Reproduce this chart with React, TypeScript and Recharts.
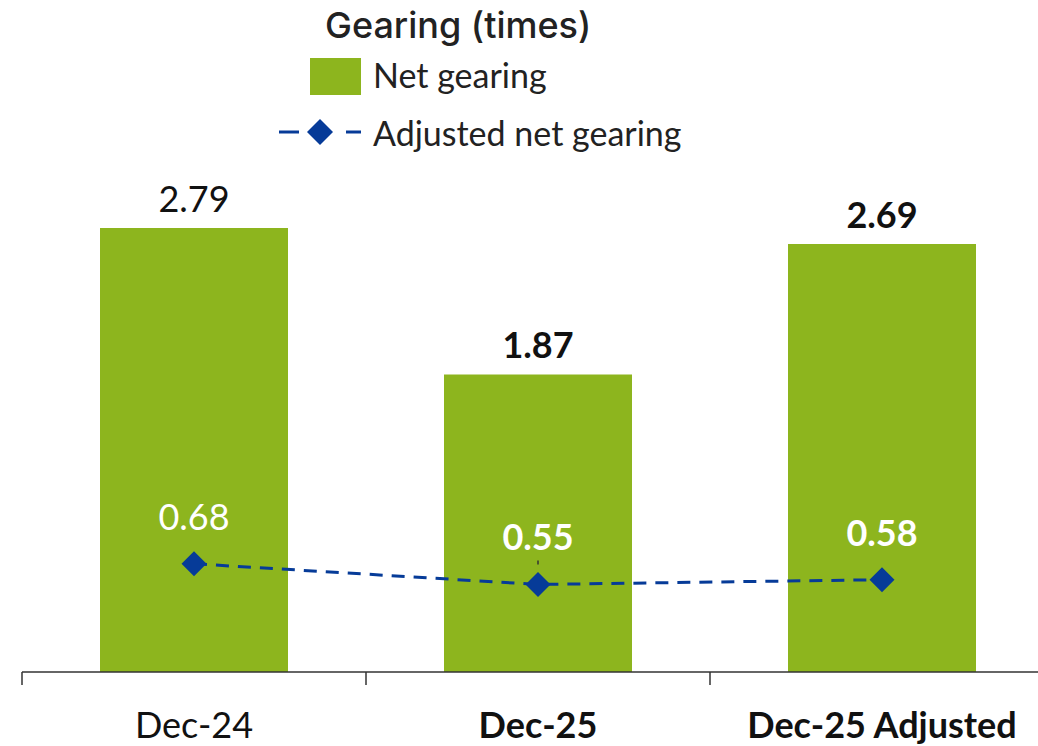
import { ComposedChart, Bar, Line, XAxis, YAxis, LabelList } from "recharts";

const categories = ["Dec-24", "Dec-25", "Dec-25 Adjusted"];
const netGearing = [2.79, 1.87, 2.69];
const adjustedNetGearing = [0.68, 0.55, 0.58];
const boldFlags = [false, true, true];

const GREEN = "#8db51e";
const BLUE = "#063b98";
const FONT = "Lato, 'Liberation Sans', sans-serif";

const data = categories.map((name, i) => ({
  name,
  net: netGearing[i],
  adjusted: adjustedNetGearing[i],
}));

const HALF_BAND = 172;

const CategoryTick = (props: any) => {
  const { x, y, payload, index } = props;
  return (
    <g>
      <line x1={x - HALF_BAND} x2={x - HALF_BAND} y1={y} y2={y + 13} stroke="#333" strokeWidth={1.5} />
      <text
        x={x}
        y={y + 66}
        textAnchor="middle"
        fontFamily={FONT}
        fontSize={36}
        fontWeight={boldFlags[index] ? 700 : 400}
        fill="#111"
      >
        {payload.value}
      </text>
    </g>
  );
};

const BarLabel = (props: any) => {
  const { x, y, width, value, index } = props;
  return (
    <text
      x={x + width / 2}
      y={y - 16}
      textAnchor="middle"
      fontFamily={FONT}
      fontSize={36}
      fontWeight={boldFlags[index] ? 700 : 400}
      fill="#111"
    >
      {value.toFixed(2)}
    </text>
  );
};

const LineLabel = (props: any) => {
  const { x, y, value, index } = props;
  return (
    <g>
      {index === 1 && <line x1={x} x2={x} y1={y - 24} y2={y - 20} stroke="#333" strokeWidth={1.5} />}
      <text
        x={x}
        y={y - 34}
        textAnchor="middle"
        fontFamily={FONT}
        fontSize={36}
        fontWeight={boldFlags[index] ? 700 : 400}
        fill="#fff"
      >
        {value.toFixed(2)}
      </text>
    </g>
  );
};

const Diamond = (props: any) => {
  const { cx, cy } = props;
  if (cx == null || cy == null) return null;
  const r = 12.5;
  return (
    <polygon
      points={`${cx},${cy - r} ${cx + r},${cy} ${cx},${cy + r} ${cx - r},${cy}`}
      fill={BLUE}
    />
  );
};

const LegendBox = () => (
  <div style={{ position: "absolute", left: 0, top: 0, width: 1038, height: 160, fontFamily: FONT, color: "#222" }}>
    <div
      style={{
        position: "absolute",
        left: 325,
        top: 3,
        fontFamily: "Inter, sans-serif",
        fontWeight: 500,
        fontSize: 36,
        whiteSpace: "nowrap",
      }}
    >
      Gearing (times)
    </div>
    <div style={{ position: "absolute", left: 310, top: 58, width: 51, height: 37, background: GREEN }} />
    <div style={{ position: "absolute", left: 373, top: 54, fontSize: 34, whiteSpace: "nowrap" }}>Net gearing</div>
    <svg style={{ position: "absolute", left: 275, top: 112 }} width={95} height={40}>
      <line x1={4} x2={24} y1={20} y2={20} stroke={BLUE} strokeWidth={3} />
      <polygon points="45,7 58,20 45,33 32,20" fill={BLUE} />
      <line x1={71} x2={86} y1={20} y2={20} stroke={BLUE} strokeWidth={3} />
    </svg>
    <div style={{ position: "absolute", left: 373, top: 112, fontSize: 34, whiteSpace: "nowrap" }}>
      Adjusted net gearing
    </div>
  </div>
);

export default function App() {
  return (
    <div style={{ position: "absolute", left: 0, top: 0, width: 1038, height: 746, overflow: "hidden", background: "#fff" }}>
      <ComposedChart
        width={1060}
        height={746}
        data={data}
        margin={{ top: 115, right: 6, left: 22, bottom: 0 }}
      >
        <XAxis
          dataKey="name"
          height={74}
          tickSize={0}
          tickMargin={0}
          tickLine={false}
          axisLine={{ stroke: "#333", strokeWidth: 1.5 }}
          tick={<CategoryTick />}
          interval={0}
        />
        <YAxis hide type="number" domain={[0, 3.5]} allowDataOverflow />
        <Bar dataKey="net" fill={GREEN} barSize={188} isAnimationActive={false}>
          <LabelList dataKey="net" content={<BarLabel />} />
        </Bar>
        <Line
          dataKey="adjusted"
          stroke={BLUE}
          strokeWidth={3}
          strokeDasharray="13 9"
          dot={<Diamond />}
          activeDot={false}
          isAnimationActive={false}
        >
          <LabelList dataKey="adjusted" content={<LineLabel />} />
        </Line>
      </ComposedChart>
      <LegendBox />
    </div>
  );
}
